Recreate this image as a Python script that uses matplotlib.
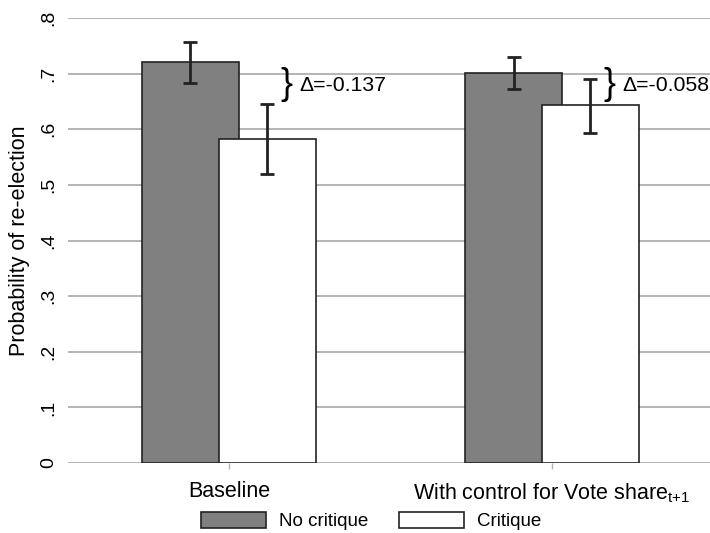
import matplotlib
matplotlib.use("Agg")
import matplotlib.pyplot as plt
import numpy as np

plt.rcParams['font.family'] = ['Liberation Sans', 'DejaVu Sans']
plt.rcParams['mathtext.fontset'] = 'custom'
plt.rcParams['mathtext.rm'] = 'Liberation Sans'

groups = ["Baseline", r"With control for Vote share$_{\mathregular{t{+}1}}$"]
series = ["No critique", "Critique"]
no_crit = [0.721, 0.701]
no_crit_lo = [0.684, 0.672]
no_crit_hi = [0.756, 0.730]
crit = [0.583, 0.644]
crit_lo = [0.519, 0.593]
crit_hi = [0.646, 0.691]
deltas = ["Δ=-0.137", "Δ=-0.058"]
yticks = [0, 0.1, 0.2, 0.3, 0.4, 0.5, 0.6, 0.7, 0.8]
yticklabels = ["0", ".1", ".2", ".3", ".4", ".5", ".6", ".7", ".8"]

fig = plt.figure(figsize=(7.1, 5.33), dpi=100)
ax = fig.add_axes([68/710, 1-463/533, 1-68/710, (463-18)/533])

x = np.arange(len(groups))
w = 0.30
off = 0.119
ecol = "#222222"
ax.set_axisbelow(True)
for yv in yticks:
    ax.axhline(yv, color="#b4b4b4", lw=1.4, zorder=0)

ax.bar(x - off, no_crit, w, color="#808080", edgecolor=ecol, lw=1.2, zorder=2, label=series[0])
ax.bar(x + off, crit, w, color="white", edgecolor=ecol, lw=1.2, zorder=3, label=series[1])
for xi, v, lo, hi in zip(x - off, no_crit, no_crit_lo, no_crit_hi):
    ax.errorbar(xi, v, yerr=[[v - lo], [hi - v]], color=ecol, lw=2, capsize=5, capthick=2, zorder=4)
for xi, v, lo, hi in zip(x + off, crit, crit_lo, crit_hi):
    ax.errorbar(xi, v, yerr=[[v - lo], [hi - v]], color=ecol, lw=2, capsize=5, capthick=2, zorder=5)

for xi, d in zip(x, deltas):
    ax.text(xi + 0.160, 0.681, "}", fontsize=26, va="center", ha="left", color="black", zorder=6)
    ax.text(xi + 0.218, 0.679, d, fontsize=15.3, va="center", ha="left", color="black", zorder=6)

ax.set_xlim(-0.498, 1.489)
ax.set_ylim(0, 0.8)
ax.set_yticks(yticks)
ax.set_yticklabels(yticklabels, rotation=90, va="center", fontsize=14)
ax.set_xticks(x)
ax.set_xticklabels(groups, fontsize=15.5)
ax.tick_params(axis="y", length=0, pad=8)
ax.tick_params(axis="x", length=4, width=1, color="#b4b4b4", pad=9)
for s in ax.spines.values():
    s.set_visible(False)
ax.set_ylabel("Probability of re-election", fontsize=15.5, labelpad=7)

fig.legend(loc="center", bbox_to_anchor=(371/710, 1-521/533), ncol=2, frameon=False,
           fontsize=13.5, handlelength=3.5, handleheight=0.95, columnspacing=1.6,
           handletextpad=0.7)

fig.savefig("out.png", dpi=100)
